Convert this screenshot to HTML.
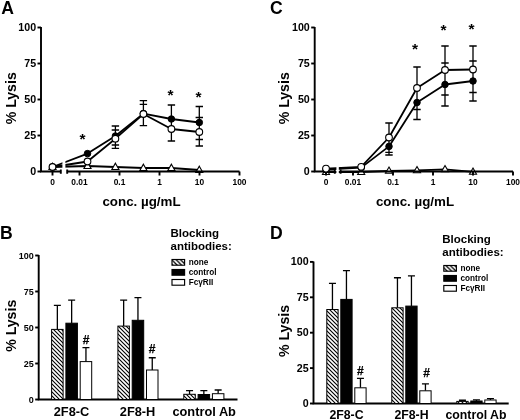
<!DOCTYPE html>
<html><head><meta charset="utf-8"><title>Figure</title>
<style>
html,body{margin:0;padding:0;background:#fff}
body{width:520px;height:420px;overflow:hidden}
svg{display:block;will-change:transform;opacity:0.999}
text{font-family:"Liberation Sans",sans-serif;font-weight:bold;fill:#000}
.ax{stroke:#000;stroke-width:1.9;fill:none}
.eb{stroke:#000;stroke-width:1.3;fill:none}
.dl{stroke:#000;stroke-width:1.8;fill:none;stroke-linejoin:round}
.mk{fill:#fff;stroke:#000;stroke-width:1.1}
.fk{fill:#000;stroke:#000;stroke-width:1}
.br{stroke:#000;stroke-width:1}
.tx{font-size:8.4px}
.tb{font-size:9px}
.ty{font-size:10px}
.xl{font-size:13.35px}
.yl{font-size:14.8px}
.pl{font-size:17.6px}
.gb{font-size:12.8px}
.gd{font-size:12.3px}
.st{font-size:15.5px}
.hs{font-size:12px;stroke:#000;stroke-width:0.25px}
.lt{font-size:11.5px}
.ll{font-size:8.2px}
</style></head><body>
<svg width="520" height="420" viewBox="0 0 520 420">
<defs>
<pattern id="h" width="4" height="4" patternUnits="userSpaceOnUse"><rect width="4" height="4" fill="#fff"/><path d="M-1 -1L5 5M-1 3L1 5M3 -1L5 1" stroke="#000" stroke-width="1.12"/></pattern>
<pattern id="h2" width="4.4" height="4.4" patternUnits="userSpaceOnUse"><rect width="4.4" height="4.4" fill="#fff"/><path d="M-1 -1L5.4 5.4M-1 3.4L1 5.4M3.4 -1L5.4 1" stroke="#000" stroke-width="1.3"/></pattern>
</defs>
<rect width="520" height="420" fill="#fff"/>
<path d="M115.4 126V148.3M111.7 126h7.4M111.7 130h7.4M111.7 145h7.4M111.7 148.3h7.4" class="eb"/>
<path d="M143.4 100.7V125.7M139.70000000000002 100.7h7.4M139.70000000000002 104.4h7.4M139.70000000000002 125.7h7.4" class="eb"/>
<path d="M171.4 105V141M167.70000000000002 105h7.4M167.70000000000002 141h7.4" class="eb"/>
<path d="M199.3 106.5V146M195.60000000000002 106.5h7.4M195.60000000000002 117.5h7.4M195.60000000000002 139.5h7.4M195.60000000000002 146h7.4" class="eb"/>
<path d="M52.5 167L87.5 166L115.4 167L143.4 168L171.4 168L199.3 170" class="dl"/>
<path d="M52.5 163.2l3.55 6.3h-7.1z" class="mk"/>
<path d="M87.5 162.2l3.55 6.3h-7.1z" class="mk"/>
<path d="M115.4 163.2l3.55 6.3h-7.1z" class="mk"/>
<path d="M143.4 164.2l3.55 6.3h-7.1z" class="mk"/>
<path d="M171.4 164.2l3.55 6.3h-7.1z" class="mk"/>
<path d="M199.3 166.2l3.55 6.3h-7.1z" class="mk"/>
<path d="M41 27.0V171.5H60.8M67.2 171.5H239.5" class="ax"/>
<path d="M60.8 169.5v4.2M67.2 169.5v4.2" class="ax"/>
<path d="M37.5 171.5h3.5" class="ax"/>
<text transform="translate(36.1 174.9) scale(1.07 1)" class="ty" text-anchor="end">0</text>
<path d="M37.5 135.5h3.5" class="ax"/>
<text transform="translate(36.1 138.9) scale(1.07 1)" class="ty" text-anchor="end">25</text>
<path d="M37.5 99.5h3.5" class="ax"/>
<text transform="translate(36.1 102.9) scale(1.07 1)" class="ty" text-anchor="end">50</text>
<path d="M37.5 63.5h3.5" class="ax"/>
<text transform="translate(36.1 66.9) scale(1.07 1)" class="ty" text-anchor="end">75</text>
<path d="M37.5 27.5h3.5" class="ax"/>
<text transform="translate(36.1 30.9) scale(1.07 1)" class="ty" text-anchor="end">100</text>
<path d="M52.5 171.5v4" class="ax"/>
<text x="52.5" y="185.0" class="tx" text-anchor="middle">0</text>
<path d="M79.5 171.5v4" class="ax"/>
<text x="79.5" y="185.0" class="tx" text-anchor="middle">0.01</text>
<path d="M119.5 171.5v4" class="ax"/>
<text x="119.5" y="185.0" class="tx" text-anchor="middle">0.1</text>
<path d="M159.5 171.5v4" class="ax"/>
<text x="159.5" y="185.0" class="tx" text-anchor="middle">1</text>
<path d="M199.5 171.5v4" class="ax"/>
<text x="199.5" y="185.0" class="tx" text-anchor="middle">10</text>
<path d="M239.5 171.5v4" class="ax"/>
<text x="239.5" y="185.0" class="tx" text-anchor="middle">100</text>
<text x="141.5" y="206.0" class="xl" text-anchor="middle">conc. µg/mL</text>
<text transform="translate(16.2 98.3) rotate(-90) scale(0.955 1.03)" class="yl" text-anchor="middle">% Lysis</text>
<text x="1.2" y="14" class="pl">A</text>
<path d="M52.5 167L87.5 153.6L115.4 136L143.4 113.6L171.4 119L199.3 122.5" class="dl"/>
<path d="M52.5 167L87.5 161.5L115.4 138.7L143.4 114L171.4 129L199.3 132" class="dl"/>
<rect x="62.4" y="159.5" width="3.0000000000000058" height="15" fill="#fff"/>
<circle cx="52.5" cy="167" r="3.25" class="fk"/>
<circle cx="87.5" cy="153.6" r="3.25" class="fk"/>
<circle cx="115.4" cy="136" r="3.25" class="fk"/>
<circle cx="143.4" cy="113.6" r="3.25" class="fk"/>
<circle cx="171.4" cy="119" r="3.25" class="fk"/>
<circle cx="199.3" cy="122.5" r="3.25" class="fk"/>
<circle cx="52.5" cy="167" r="3.35" class="mk"/>
<circle cx="87.5" cy="161.5" r="3.35" class="mk"/>
<circle cx="115.4" cy="138.7" r="3.35" class="mk"/>
<circle cx="143.4" cy="114" r="3.35" class="mk"/>
<circle cx="171.4" cy="129" r="3.35" class="mk"/>
<circle cx="199.3" cy="132" r="3.35" class="mk"/>
<text x="82.4" y="144.4" class="st" text-anchor="middle">*</text>
<text x="170.4" y="99.6" class="st" text-anchor="middle">*</text>
<text x="198.4" y="101.6" class="st" text-anchor="middle">*</text>
<path d="M389 123V155M385.3 123h7.4M385.3 152.3h7.4M385.3 155h7.4" class="eb"/>
<path d="M417 67V119.5M413.3 67h7.4M413.3 109.5h7.4M413.3 119.5h7.4" class="eb"/>
<path d="M445 46V106M441.3 46h7.4M441.3 63h7.4M441.3 95h7.4M441.3 106h7.4" class="eb"/>
<path d="M473 46V101M469.3 46h7.4M469.3 61h7.4M469.3 92.5h7.4M469.3 101h7.4" class="eb"/>
<path d="M326 172L361.2 172L389 170.8L417 170.3L445 169.3L473 171.8" class="dl"/>
<path d="M326 168.2l3.55 6.3h-7.1z" class="mk"/>
<path d="M361.2 168.2l3.55 6.3h-7.1z" class="mk"/>
<path d="M389 167.0l3.55 6.3h-7.1z" class="mk"/>
<path d="M417 166.5l3.55 6.3h-7.1z" class="mk"/>
<path d="M445 165.5l3.55 6.3h-7.1z" class="mk"/>
<path d="M473 168.0l3.55 6.3h-7.1z" class="mk"/>
<path d="M314.7 27.0V171.5H334.8M340.6 171.5H513" class="ax"/>
<path d="M334.8 169.5v4.2M340.6 169.5v4.2" class="ax"/>
<path d="M311.2 171.5h3.5" class="ax"/>
<text transform="translate(309.8 174.9) scale(1.07 1)" class="ty" text-anchor="end">0</text>
<path d="M311.2 135.5h3.5" class="ax"/>
<text transform="translate(309.8 138.9) scale(1.07 1)" class="ty" text-anchor="end">25</text>
<path d="M311.2 99.5h3.5" class="ax"/>
<text transform="translate(309.8 102.9) scale(1.07 1)" class="ty" text-anchor="end">50</text>
<path d="M311.2 63.5h3.5" class="ax"/>
<text transform="translate(309.8 66.9) scale(1.07 1)" class="ty" text-anchor="end">75</text>
<path d="M311.2 27.5h3.5" class="ax"/>
<text transform="translate(309.8 30.9) scale(1.07 1)" class="ty" text-anchor="end">100</text>
<path d="M326 171.5v4" class="ax"/>
<text x="326" y="185.0" class="tx" text-anchor="middle">0</text>
<path d="M353 171.5v4" class="ax"/>
<text x="353" y="185.0" class="tx" text-anchor="middle">0.01</text>
<path d="M393 171.5v4" class="ax"/>
<text x="393" y="185.0" class="tx" text-anchor="middle">0.1</text>
<path d="M433 171.5v4" class="ax"/>
<text x="433" y="185.0" class="tx" text-anchor="middle">1</text>
<path d="M473 171.5v4" class="ax"/>
<text x="473" y="185.0" class="tx" text-anchor="middle">10</text>
<path d="M513 171.5v4" class="ax"/>
<text x="513" y="185.0" class="tx" text-anchor="middle">100</text>
<text x="415" y="206.0" class="xl" text-anchor="middle">conc. µg/mL</text>
<text transform="translate(289.4 98.3) rotate(-90) scale(0.955 1.03)" class="yl" text-anchor="middle">% Lysis</text>
<text x="269.9" y="14" class="pl">C</text>
<path d="M326 169.6L361.2 167.6L389 146.4L417 102.5L445 84.5L473 81" class="dl"/>
<path d="M326 168.6L361.2 166.8L389 137.5L417 88L445 70L473 69.5" class="dl"/>
<rect x="336.40000000000003" y="159.5" width="2.4000000000000115" height="15" fill="#fff"/>
<circle cx="326" cy="169.6" r="3.25" class="fk"/>
<circle cx="361.2" cy="167.6" r="3.25" class="fk"/>
<circle cx="389" cy="146.4" r="3.25" class="fk"/>
<circle cx="417" cy="102.5" r="3.25" class="fk"/>
<circle cx="445" cy="84.5" r="3.25" class="fk"/>
<circle cx="473" cy="81" r="3.25" class="fk"/>
<circle cx="326" cy="168.6" r="3.35" class="mk"/>
<circle cx="361.2" cy="166.8" r="3.35" class="mk"/>
<circle cx="389" cy="137.5" r="3.35" class="mk"/>
<circle cx="417" cy="88" r="3.35" class="mk"/>
<circle cx="445" cy="70" r="3.35" class="mk"/>
<circle cx="473" cy="69.5" r="3.35" class="mk"/>
<text x="414.9" y="54.1" class="st" text-anchor="middle">*</text>
<text x="443.4" y="34.6" class="st" text-anchor="middle">*</text>
<text x="471.4" y="33.6" class="st" text-anchor="middle">*</text>
<path d="M38.7 255.0V399.5H237.5" class="ax"/>
<path d="M35.2 399.5h3.5" class="ax"/>
<text x="33.800000000000004" y="402.6" class="tb" text-anchor="end">0</text>
<path d="M35.2 363.5h3.5" class="ax"/>
<text x="33.800000000000004" y="366.6" class="tb" text-anchor="end">25</text>
<path d="M35.2 327.5h3.5" class="ax"/>
<text x="33.800000000000004" y="330.6" class="tb" text-anchor="end">50</text>
<path d="M35.2 291.5h3.5" class="ax"/>
<text x="33.800000000000004" y="294.6" class="tb" text-anchor="end">75</text>
<path d="M35.2 255.5h3.5" class="ax"/>
<text x="33.800000000000004" y="258.6" class="tb" text-anchor="end">100</text>
<text transform="translate(16 325.8) rotate(-90) scale(0.955 1.03)" class="yl" text-anchor="middle">% Lysis</text>
<text x="0" y="239.1" class="pl">B</text>
<path d="M57.35 329.372V305.468M53.85 305.468h7" class="eb"/>
<rect x="51.6" y="329.4" width="11.5" height="70.1" fill="url(#h)" class="br"/>
<path d="M71.65 323.18V300.14M68.15 300.14h7" class="eb"/>
<rect x="65.9" y="323.2" width="11.5" height="76.3" fill="#000" class="br"/>
<path d="M85.95 361.628V347.66M82.45 347.66h7" class="eb"/>
<rect x="80.2" y="361.6" width="11.5" height="37.9" fill="#fff" class="br"/>
<text x="71.5" y="415.8" class="gb" text-anchor="middle">2F8-C</text>
<path d="M123.65 326.06V300.14M120.15 300.14h7" class="eb"/>
<rect x="117.9" y="326.1" width="11.5" height="73.4" fill="url(#h)" class="br"/>
<path d="M137.95000000000002 320.3V297.692M134.45000000000002 297.692h7" class="eb"/>
<rect x="132.20000000000002" y="320.3" width="11.5" height="79.2" fill="#000" class="br"/>
<path d="M152.25 369.98V357.74M148.75 357.74h7" class="eb"/>
<rect x="146.5" y="370.0" width="11.5" height="29.5" fill="#fff" class="br"/>
<text x="137.6" y="415.8" class="gb" text-anchor="middle">2F8-H</text>
<path d="M189.55 394.316V390.572M186.05 390.572h7" class="eb"/>
<rect x="183.8" y="394.3" width="11.5" height="5.2" fill="url(#h)" class="br"/>
<path d="M203.85000000000002 394.46V390.572M200.35000000000002 390.572h7" class="eb"/>
<rect x="198.10000000000002" y="394.5" width="11.5" height="5.0" fill="#000" class="br"/>
<path d="M218.15 393.74V389.996M214.65 389.996h7" class="eb"/>
<rect x="212.4" y="393.7" width="11.5" height="5.8" fill="#fff" class="br"/>
<text x="204.2" y="415.8" class="gb" text-anchor="middle">control Ab</text>
<text x="86.2" y="344" class="hs" text-anchor="middle">#</text>
<text x="152" y="353.2" class="hs" text-anchor="middle">#</text>
<text x="170.5" y="237" class="lt">Blocking</text>
<text x="170.5" y="249.9" class="lt">antibodies:</text>
<rect x="172.0" y="259.5" width="12.6" height="5.7" fill="url(#h2)" class="br" style="stroke-width:1.15"/>
<text x="188.7" y="265.3" class="ll">none</text>
<rect x="172.0" y="269.5" width="12.6" height="5.7" fill="#000" class="br" style="stroke-width:1.15"/>
<text x="188.7" y="275.3" class="ll">control</text>
<rect x="172.0" y="279.5" width="12.6" height="5.7" fill="#fff" class="br" style="stroke-width:1.15"/>
<text x="188.7" y="285.3" class="ll">FcγRII</text>
<path d="M313.5 261.4V403.5H508.7" class="ax"/>
<path d="M310.0 403.5h3.5" class="ax"/>
<text transform="translate(308.6 406.9) scale(1.07 1)" class="ty" text-anchor="end">0</text>
<path d="M310.0 368.1h3.5" class="ax"/>
<text transform="translate(308.6 371.5) scale(1.07 1)" class="ty" text-anchor="end">25</text>
<path d="M310.0 332.7h3.5" class="ax"/>
<text transform="translate(308.6 336.09999999999997) scale(1.07 1)" class="ty" text-anchor="end">50</text>
<path d="M310.0 297.3h3.5" class="ax"/>
<text transform="translate(308.6 300.7) scale(1.07 1)" class="ty" text-anchor="end">75</text>
<path d="M310.0 261.9h3.5" class="ax"/>
<text transform="translate(308.6 265.29999999999995) scale(1.07 1)" class="ty" text-anchor="end">100</text>
<text transform="translate(288.7 331) rotate(-90) scale(0.955 1.03)" class="yl" text-anchor="middle">% Lysis</text>
<text x="270" y="239.2" class="pl">D</text>
<path d="M332.45 309.4776V283.4232M328.95 283.4232h7" class="eb"/>
<rect x="326.8" y="309.5" width="11.3" height="94.0" fill="url(#h)" class="br"/>
<path d="M346.45 299.424V270.5376M342.95 270.5376h7" class="eb"/>
<rect x="340.8" y="299.4" width="11.3" height="104.1" fill="#000" class="br"/>
<path d="M360.45 387.7824V378.4368M356.95 378.4368h7" class="eb"/>
<rect x="354.8" y="387.8" width="11.3" height="15.7" fill="#fff" class="br"/>
<text x="346.5" y="419.3" class="gd" text-anchor="middle">2F8-C</text>
<path d="M397.45 307.77840000000003V277.7592M393.95 277.7592h7" class="eb"/>
<rect x="391.8" y="307.8" width="11.3" height="95.7" fill="url(#h)" class="br"/>
<path d="M411.45 306.0792V275.9184M407.95 275.9184h7" class="eb"/>
<rect x="405.8" y="306.1" width="11.3" height="97.4" fill="#000" class="br"/>
<path d="M425.45 390.756V383.81759999999997M421.95 383.81759999999997h7" class="eb"/>
<rect x="419.8" y="390.8" width="11.3" height="12.7" fill="#fff" class="br"/>
<text x="411.5" y="419.3" class="gd" text-anchor="middle">2F8-H</text>
<path d="M462.45 401.376V400.2432M458.95 400.2432h7" class="eb"/>
<rect x="456.8" y="401.4" width="11.3" height="2.1" fill="url(#h)" class="br"/>
<path d="M476.45 400.9512V399.8184M472.95 399.8184h7" class="eb"/>
<rect x="470.8" y="401.0" width="11.3" height="2.5" fill="#000" class="br"/>
<path d="M490.45 399.96V398.6856M486.95 398.6856h7" class="eb"/>
<rect x="484.8" y="400.0" width="11.3" height="3.5" fill="#fff" class="br"/>
<text x="476" y="419.3" class="gd" text-anchor="middle">control Ab</text>
<text x="360.4" y="375" class="hs" text-anchor="middle">#</text>
<text x="426.5" y="377" class="hs" text-anchor="middle">#</text>
<text x="442.3" y="243" class="lt">Blocking</text>
<text x="442.3" y="255.9" class="lt">antibodies:</text>
<rect x="443.8" y="265.5" width="12.6" height="5.7" fill="url(#h2)" class="br" style="stroke-width:1.15"/>
<text x="460.5" y="271.3" class="ll">none</text>
<rect x="443.8" y="275.5" width="12.6" height="5.7" fill="#000" class="br" style="stroke-width:1.15"/>
<text x="460.5" y="281.3" class="ll">control</text>
<rect x="443.8" y="285.5" width="12.6" height="5.7" fill="#fff" class="br" style="stroke-width:1.15"/>
<text x="460.5" y="291.3" class="ll">FcγRII</text>
</svg>
</body></html>
